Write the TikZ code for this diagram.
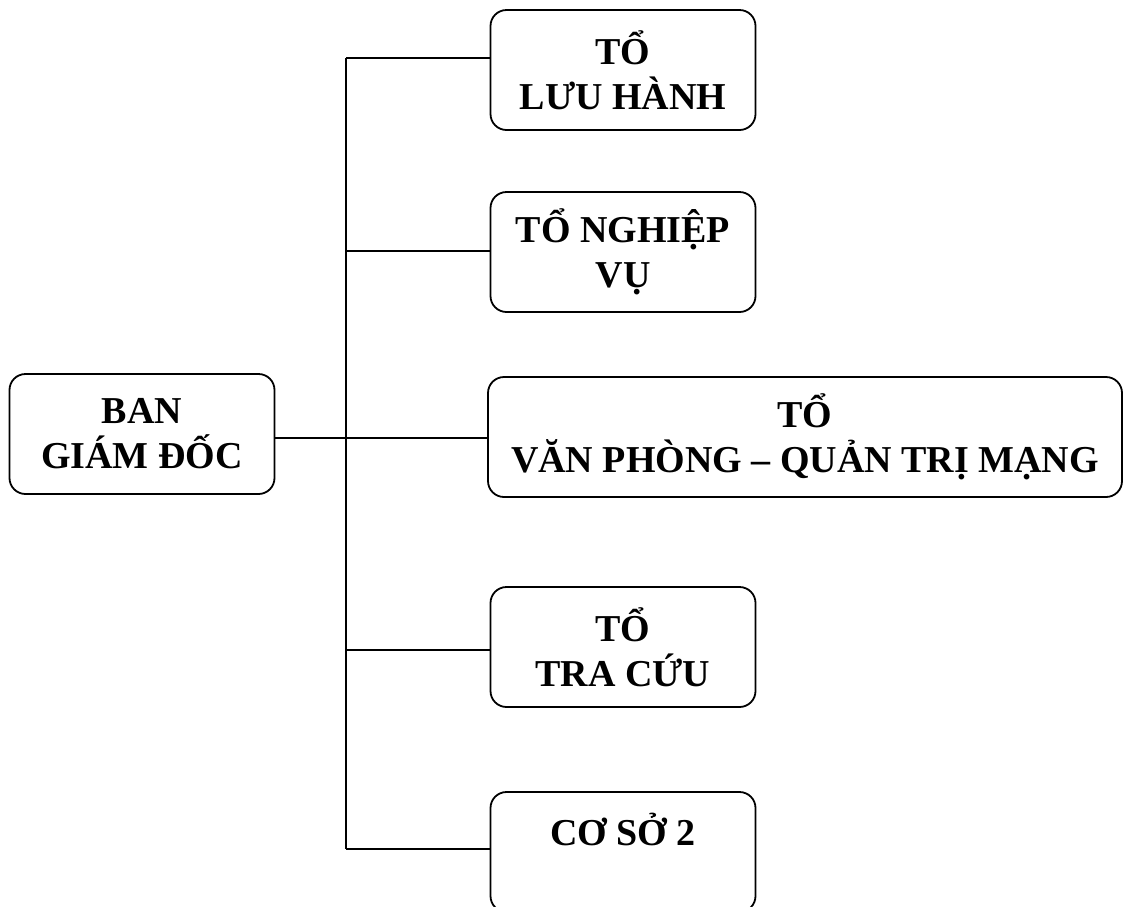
\documentclass[tikz,border=0pt]{standalone}
\usepackage{fontspec}
\setmainfont{Liberation Serif}
\usetikzlibrary{positioning}
\tikzset{
  unitbox/.style={
    draw=black, line width=1.8pt,
    rounded corners=16pt,
    align=center,
    inner sep=0pt,
    minimum width=265pt,
    minimum height=120pt,
    font=\fontsize{38}{45}\selectfont\bfseries
  },
  link/.style={
    line width=1.6pt,
    draw=black
  }
}

\begin{document}
\begin{tikzpicture}[x=1pt, y=-1pt]
  \useasboundingbox (0,0) rectangle (1124,906);
  \clip (0,0) rectangle (1124,906);

  \node[unitbox] (bgd) at (142,434) {BAN\\GIÁM ĐỐC};
  \node[unitbox] (luuhanh) at (623,70) {TỔ\\LƯU HÀNH};
  \node[unitbox] (nghiepvu) at (623,252) {TỔ NGHIỆP\\VỤ};
  \node[unitbox, minimum width=634pt] (vanphong) at (805,437) {TỔ\\VĂN PHÒNG – QUẢN TRỊ MẠNG};
  \node[unitbox] (tracuu) at (623,647) {TỔ\\TRA CỨU};
  \node[unitbox] (coso) at (623,852) {CƠ SỞ 2\\~};

  % trunk
  \coordinate (t1) at (346,58);
  \coordinate (t2) at (346,251);
  \coordinate (t3) at (346,438);
  \coordinate (t4) at (346,650);
  \coordinate (t5) at (346,849);

  \draw[link] (bgd.east |- t3) -- (t3);
  \draw[link] (t1) -- (t5);
  \draw[link] (t1) -- (t1 -| luuhanh.west);
  \draw[link] (t2) -- (t2 -| nghiepvu.west);
  \draw[link] (t3) -- (t3 -| vanphong.west);
  \draw[link] (t4) -- (t4 -| tracuu.west);
  \draw[link] (t5) -- (t5 -| coso.west);
\end{tikzpicture}
\end{document}
